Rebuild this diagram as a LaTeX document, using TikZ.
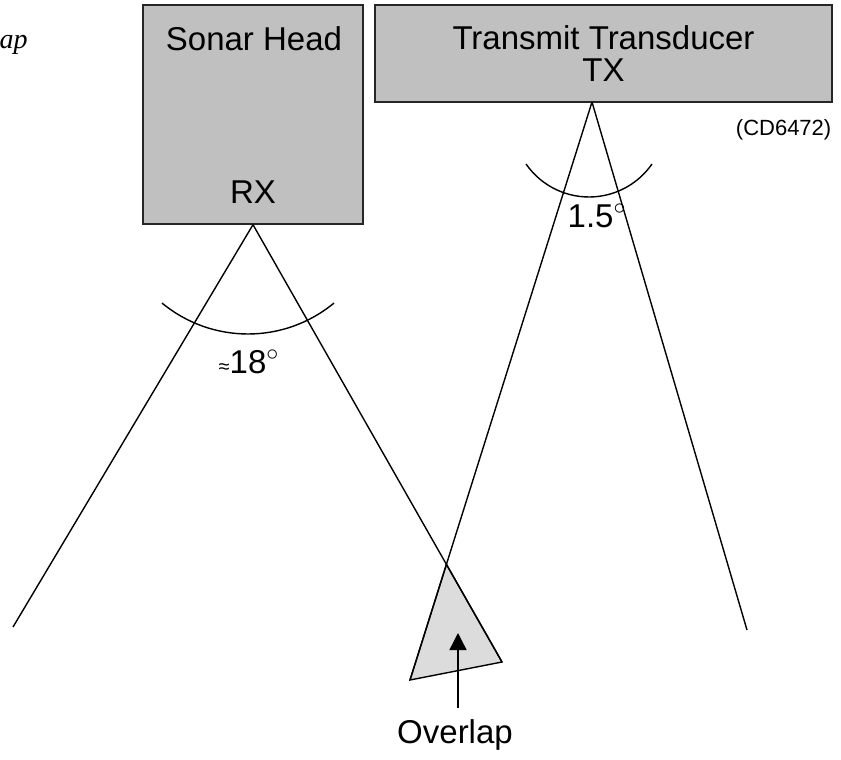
\documentclass[tikz,border=0pt]{standalone}
\usepackage{fontspec}
\setmainfont{Liberation Sans}
\newfontfamily\timesfont{Liberation Serif}
\usetikzlibrary{arrows.meta}
\definecolor{headgray}{HTML}{C0C0C0}
\definecolor{overlapgray}{HTML}{DCDCDC}
\begin{document}
\begin{tikzpicture}[x=0.5pt,y=-0.5pt,line width=0.7pt,
    font=\fontsize{16.5}{16}\selectfont,
    headbox/.style={draw=black!85,fill=headgray,inner sep=0pt},
    txt/.style={inner sep=0pt,anchor=base}]
  \useasboundingbox (0,0) rectangle (841,760);
  % heads
  \node[headbox,minimum width=110pt,minimum height=109.5pt] (sonar) at (253,114.5) {};
  \node[headbox,minimum width=228.5pt,minimum height=48.5pt,align=center] (transmit) at (603.5,53.5) {Transmit Transducer\\TX};
  \node[txt] (sonarname) at (254,50) {Sonar Head};
  \node[txt] (rxname) at (253,203) {RX};
  \node[txt,anchor=base east,font=\fontsize{11}{11}\selectfont] (code) at (832,135) {(CD6472)};
  \node[txt,anchor=base west,font=\timesfont\itshape\fontsize{14}{14}\selectfont] (cut) at (-1,48) {ap};
  % beam ends
  \coordinate (rx) at (sonar.south);
  \coordinate (tx) at (592,102);
  \coordinate (rxleft) at (13,627);
  \coordinate (rxright) at (502,662);
  \coordinate (txleft) at (410,680);
  \coordinate (txright) at (747,630);
  \coordinate (overlaptop) at (intersection of rx--rxright and tx--txleft);
  \filldraw[fill=overlapgray] (overlaptop) -- (txleft) -- (rxright) -- cycle;
  \begin{scope}[-]
    \draw (rx) -- (rxleft);
    \draw (rx) -- (rxright);
    \draw (tx) -- (txleft);
    \draw (tx) -- (txright);
  \end{scope}
  % beam widths
  \draw ([shift={(248,199)}]129.6:135) arc[start angle=129.6,end angle=50.4,radius=135];
  \draw ([shift={(589,120.4)}]145.3:76.6) arc[start angle=145.3,end angle=34.7,radius=76.6];
  \node[txt,anchor=base west] (wide) at (218,373) {{\fontsize{10}{10}\selectfont ≈}18\textsuperscript{$\circ$}};
  \node[txt,anchor=base west] (narrow) at (567,227) {1.5\textsuperscript{$\circ$}};
  % overlap
  \node[txt] (overlap) at (455,743) {Overlap};
  \coordinate (arrowfoot) at (458,708);
  \coordinate (arrowtip) at (458,633);
  \draw[-{Triangle[length=8.5pt,width=8.5pt]}] (arrowfoot) -- (arrowtip);
\end{tikzpicture}
\end{document}
